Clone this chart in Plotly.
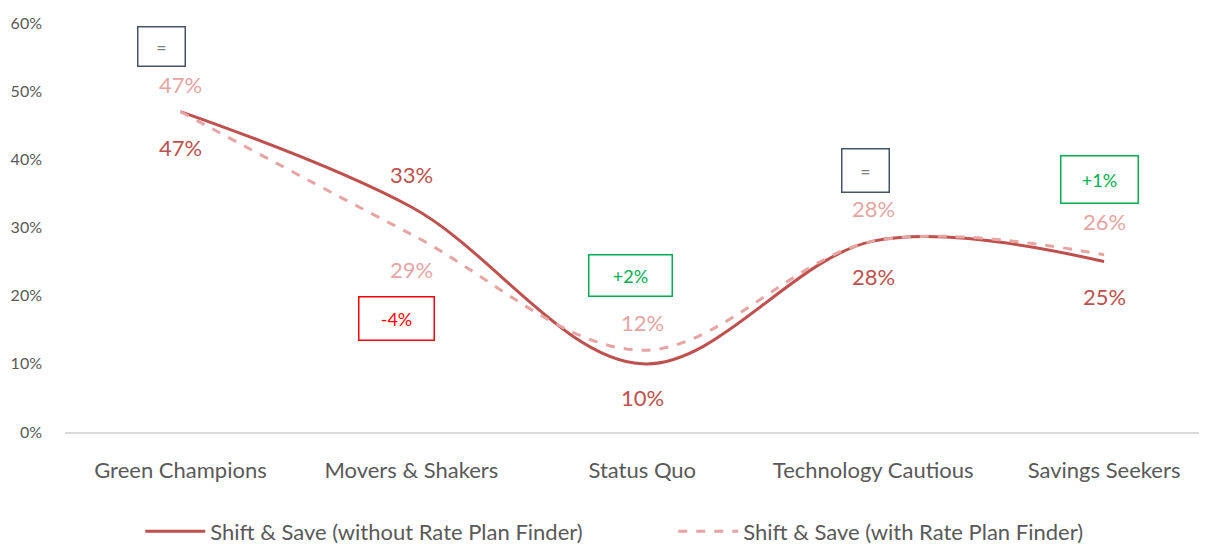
import plotly.graph_objects as go

categories = ["Green Champions", "Movers & Shakers", "Status Quo", "Technology Cautious", "Savings Seekers"]
without_rpf = [47, 33, 10, 28, 25]
with_rpf = [47, 29, 12, 28, 26]
series_names = ["Shift & Save (without Rate Plan Finder)", "Shift & Save (with Rate Plan Finder)"]
y_ticks = [0, 10, 20, 30, 40, 50, 60]
y_tick_labels = ["0%", "10%", "20%", "30%", "40%", "50%", "60%"]

# change boxes: (label, x position in category units, y value, colour)
box_labels = ["=", "-4%", "+2%", "=", "+1%"]
box_x = [-0.082, 0.935, 1.948, 2.965, 3.978]
box_y = [56.5, 16.7, 22.9, 38.4, 37.1]
box_border = ["#44546A", "#FF0000", "#00B050", "#44546A", "#00B050"]
box_text = ["#7F7F7F", "#FF0000", "#00B050", "#7F7F7F", "#00B050"]
box_w = [44, 72, 80, 44, 74]
box_h = [36, 40, 38, 40, 44]

# label offsets in px (positive = above)
without_shift = [-36, 33, -34, -35, -35]
with_shift = [27, -35, 28, 33, 33]

SOLID = "#C0504D"
DASH = "#E6A5A3"
FONT = "Lato, Carlito, 'Liberation Sans', sans-serif"

xs = list(range(len(categories)))

fig = go.Figure()
fig.add_trace(go.Scatter(x=xs, y=without_rpf, mode="lines", name=series_names[0],
                         line=dict(color=SOLID, width=3, shape="spline", smoothing=1.0)))
fig.add_trace(go.Scatter(x=xs, y=with_rpf, mode="lines", name=series_names[1],
                         line=dict(color=DASH, width=3, shape="spline", smoothing=1.0, dash="dash")))

annotations = []
for i, v in enumerate(without_rpf):
    annotations.append(dict(x=xs[i], y=v, text=f"{v}%", showarrow=False,
                            yshift=without_shift[i], font=dict(size=22, color=SOLID, family=FONT)))
for i, v in enumerate(with_rpf):
    annotations.append(dict(x=xs[i], y=v, text=f"{v}%", showarrow=False,
                            yshift=with_shift[i], font=dict(size=22, color=DASH, family=FONT)))
for i, t in enumerate(box_labels):
    annotations.append(dict(x=box_x[i], y=box_y[i], text=t, showarrow=False,
                            width=box_w[i], height=box_h[i], bordercolor=box_border[i], borderwidth=1.5,
                            borderpad=1, bgcolor="white",
                            font=dict(size=18, color=box_text[i], family=FONT)))

fig.update_layout(
    width=1207, height=547,
    paper_bgcolor="white", plot_bgcolor="white",
    margin=dict(l=57, r=10, t=15, b=123, autoexpand=False),
    font=dict(family=FONT, color="#595959"),
    showlegend=True,
    legend=dict(orientation="h", x=0.066, xanchor="left", y=-0.192, yanchor="top",
                font=dict(size=22, color="#595959", family=FONT), entrywidth=458, itemwidth=60),
    annotations=annotations,
    xaxis=dict(tickmode="array", tickvals=xs, ticktext=categories, range=[-0.5, 4.437],
               showgrid=False, zeroline=False, showline=True, linecolor="#D9D9D9", linewidth=2,
               automargin=False,
               ticks="", tickfont=dict(size=22, color="#595959", family=FONT), ticklabelstandoff=18),
    yaxis=dict(range=[0, 60], tickmode="array", tickvals=y_ticks, ticktext=y_tick_labels,
               showgrid=False, zeroline=False, showline=False, ticks="", automargin=False,
               tickfont=dict(size=16, color="#595959", family=FONT), ticklabelstandoff=22),
)

fig.write_html("out.html")
